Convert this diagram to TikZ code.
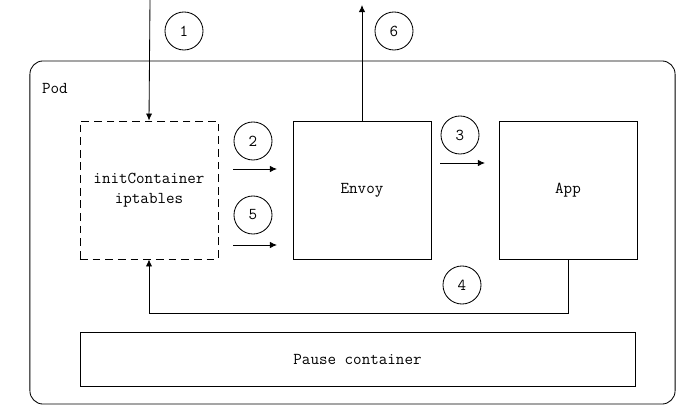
\documentclass[tikz,border=0pt]{standalone}
\usetikzlibrary{arrows.meta}

\begin{document}
\begin{tikzpicture}[x=0.025cm, y=-0.025cm, line width=0.6pt,
  font=\ttfamily\fontsize{11.8}{14.2}\selectfont,
  box/.style={draw, minimum width=3.45cm, minimum height=3.45cm, inner sep=0pt},
  step num/.style={draw, circle, minimum size=0.95cm, inner sep=0pt},
  flow/.style={-{Latex[length=5pt,width=4.5pt]}}]
\useasboundingbox (0,0) rectangle (679,406);
% Pod frame
\node[draw, rounded corners=0.33cm, minimum width=16.125cm, minimum height=8.575cm,
      inner sep=0pt] (pod) at (352.5,232.5) {};
\node[anchor=west] (podlabel) at (37,88) {Pod};

% Containers
\node[box, dash pattern=on 5.5pt off 3.5pt, align=center] (init) at (149,190)
  {initContainer\\iptables};
\node[box] (envoy) at (362,190) {Envoy};
\node[box] (app) at (568,190) {App};
\node[draw, minimum width=13.875cm, minimum height=1.35cm, inner sep=0pt] (pause)
  at (357.5,359) {Pause container};

% Step numbers
\node[step num] (n1) at (184,31) {1};
\node[step num] (n2) at (253,141) {2};
\node[step num] (n3) at (460,135) {3};
\node[step num] (n4) at (462,285) {4};
\node[step num] (n5) at (253,215) {5};
\node[step num] (n6) at (394,31) {6};

% Traffic
\coordinate (in) at (150,0);
\coordinate (out) at (362,5);
\coordinate (s2) at (233,169);
\coordinate (e2) at (277,169);
\coordinate (s3) at (440,163);
\coordinate (e3) at (485,163);
\coordinate (s5) at (233,245);
\coordinate (e5) at (277,245);
\draw[flow] (in) -- (init.north);
\draw[flow] (s2) -- (e2);
\draw[flow] (s3) -- (e3);
\draw[flow] (s5) -- (e5);
\draw[flow] (app.south) -- ++(0,54) -| (init.south);
\draw[flow] (envoy.north) -- (out);
\end{tikzpicture}
\end{document}
